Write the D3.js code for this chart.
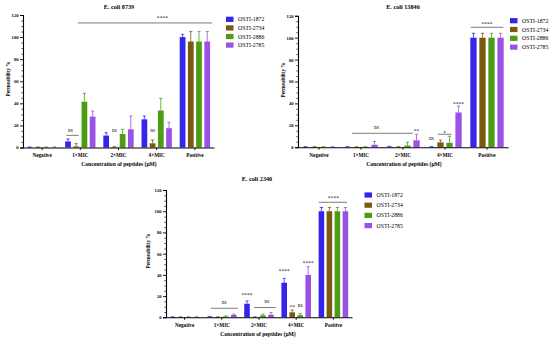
<!DOCTYPE html>
<html><head><meta charset="utf-8">
<script src="https://cdn.jsdelivr.net/npm/d3@7"></script>
<style>body{margin:0;background:#fff}svg{display:block}text{font-family:"Liberation Serif","DejaVu Serif",serif}</style>
</head><body><svg id="c" width="550" height="341"></svg>
<script>
// ---------- data ----------
const categories = ["Negative", "1×MIC", "2×MIC", "4×MIC", "Positive"];
const seriesNames = ["OSTI-1872", "OSTI-2734", "OSTI-2886", "OSTI-2785"];
const yTickValues = [0, 20, 40, 60, 80, 100, 120];

// means per series (rows) x category (cols)
const mean8739 = [
  [0.3, 5.5, 10.8, 25.5, 100],
  [0.3, 1.0, 0.5, 3.8, 96],
  [0.3, 41.5, 12.2, 33.5, 96],
  [0.3, 28.0, 16.5, 17.5, 96]
];
const sd8739 = [
  [0.2, 2.2, 2.6, 3.0, 2.5],
  [0.2, 2.5, 0.3, 3.0, 9],
  [0.2, 7.5, 4.3, 11.0, 9],
  [0.2, 5.0, 12.0, 5.3, 9]
];
const mean13846 = [
  [0.3, 0.3, 0.5, 0.3, 100],
  [0.3, 0.2, 0.3, 4.4, 100],
  [0.3, 0.3, 1.5, 4.0, 100],
  [0.3, 2.2, 6.3, 31.7, 100]
];
const sd13846 = [
  [0.2, 0.2, 0.3, 0.2, 4],
  [0.2, 0.2, 0.2, 2.0, 4],
  [0.2, 0.2, 3.0, 6.0, 4],
  [0.2, 3.0, 5.5, 5.8, 4]
];
const mean2340 = [
  [0.3, 0.6, 12.8, 32.6, 100],
  [0.3, 0.3, 0.3, 4.7, 100],
  [0.3, 0.8, 1.8, 2.0, 100],
  [0.3, 2.2, 2.5, 40.0, 100]
];
const sd2340 = [
  [0.2, 0.3, 2.6, 4.1, 3.5],
  [0.2, 0.2, 0.2, 2.2, 3.5],
  [0.2, 0.4, 1.2, 1.5, 3.5],
  [0.2, 0.8, 2.0, 7.7, 3.5]
];

// significance labels: category index, series slot, value (baseline), text
const labels8739 = [
  {c: 1, s: 0.3, v: 13.8, t: "ns"},
  {c: 2, s: 1, v: 13.8, t: "ns"},
  {c: 3, s: 1, v: 13.8, t: "ns"},
  {c: 3, s: 2.2, v: 115.5, t: "****"}
];
const brackets8739 = [
  {c0: 1, s0: -0.2, c1: 1, s1: 1.3, v: 11},
  {c0: 1, s0: 1.2, c1: 4, s1: 3.6, v: 112.8}
];
const labels13846 = [
  {c: 1, s: 3.2, v: 16.3, t: "ns"},
  {c: 2, s: 3, v: 12.9, t: "**"},
  {c: 3, s: 0, v: 6.3, t: "ns"},
  {c: 3, s: 1.45, v: 11.1, t: "*"},
  {c: 3, s: 3, v: 37.6, t: "****"},
  {c: 4, s: 1.5, v: 110.7, t: "****"}
];
const brackets13846 = [
  {c0: 1, s0: 0.5, c1: 2, s1: 2.6, v: 12.7},
  {c0: 3, s0: 0.7, c1: 3, s1: 2.2, v: 11.8},
  {c0: 4, s0: -0.3, c1: 4, s1: 3.3, v: 109.5}
];
const labels2340 = [
  {c: 1, s: 1.8, v: 12.5, t: "ns"},
  {c: 2, s: 0, v: 19.1, t: "****"},
  {c: 2, s: 2.5, v: 13.2, t: "ns"},
  {c: 3, s: 0, v: 41.8, t: "****"},
  {c: 3, s: 1, v: 8.1, t: "**"},
  {c: 3, s: 2, v: 9.7, t: "ns"},
  {c: 3, s: 3, v: 49.6, t: "****"},
  {c: 4, s: 1.5, v: 110.6, t: "****"}
];
const brackets2340 = [
  {c0: 1, s0: 0.15, c1: 1, s1: 3.5, v: 8.5},
  {c0: 2, s0: 0.9, c1: 2, s1: 3.6, v: 9.2},
  {c0: 4, s0: -0.35, c1: 4, s1: 3.2, v: 108.4}
];

// ---------- styles / layout ----------
const colors = ["#3524ec", "#7b5a10", "#4c9c14", "#9a52e6"];
const svg = d3.select("#c");

const panels = [
  {title: "E. coli 8739", mean: mean8739, sd: sd8739, labels: labels8739, brackets: brackets8739,
   x0: 23, x1: 214, yTop: 15, y0: 147.5, titleX: 119, titleY: 8.5, catY: 157, axTitleX: 119, axTitleY: 165.5,
   yTitleX: 9.5, yTitleY: 79, legX: 226, legY: 19.3, legDy: 8.6},
  {title: "E. coli 13846", mean: mean13846, sd: sd13846, labels: labels13846, brackets: brackets13846,
   x0: 298, x1: 508, yTop: 15.8, y0: 147.2, titleX: 403, titleY: 8.5, catY: 157, axTitleX: 404, axTitleY: 165.5,
   yTitleX: 284.5, yTitleY: 80, legX: 510, legY: 20.7, legDy: 8.8},
  {title: "E. coli 2340", mean: mean2340, sd: sd2340, labels: labels2340, brackets: brackets2340,
   x0: 166, x1: 352, yTop: 190, y0: 317.3, titleX: 257, titleY: 180.5, catY: 327, axTitleX: 258, axTitleY: 336,
   yTitleX: 150, yTitleY: 251, legX: 364.5, legY: 195, legDy: 10.2}
];

panels.forEach(p => {
  const g = svg.append("g");
  const x = d3.scaleBand().domain(categories).range([p.x0, p.x1]);
  const step = x.step();
  const stride = step * 0.215, bw = step * 0.15;
  const y = d3.scaleLinear().domain([0, 120]).range([p.y0, p.yTop]);
  const sx = (c, s) => x(categories[c]) + step / 2 + (s - 1.5) * stride;

  // bars
  seriesNames.forEach((name, si) => {
    categories.forEach((cat, ci) => {
      const m = p.mean[si][ci], e = p.sd[si][ci];
      const cx = sx(ci, si);
      g.append("rect").attr("x", cx - bw / 2).attr("y", y(m))
        .attr("width", bw).attr("height", y(0) - y(m)).attr("fill", colors[si]);
      g.append("line").attr("x1", cx).attr("x2", cx).attr("y1", y(m)).attr("y2", y(m + e))
        .attr("stroke", colors[si]).attr("stroke-width", 0.8);
      g.append("line").attr("x1", cx - 1.6).attr("x2", cx + 1.6).attr("y1", y(m + e)).attr("y2", y(m + e))
        .attr("stroke", colors[si]).attr("stroke-width", 0.8);
    });
  });

  // y axis
  const ya = g.append("g").attr("transform", `translate(${p.x0},0)`)
    .call(d3.axisLeft(y).tickValues(yTickValues).tickSize(3).tickPadding(1.5));
  ya.select(".domain").attr("stroke", "#000").attr("stroke-width", 1.1);
  ya.selectAll(".tick line").attr("stroke", "#000").attr("stroke-width", 0.9);
  ya.selectAll(".tick text").attr("font-size", 4.6).attr("font-weight", "bold")
    .attr("font-family", "Liberation Serif").attr("fill", "#000");
  const minor = d3.range(0, 121, 5).filter(v => v % 20 !== 0);
  g.append("g").attr("transform", `translate(${p.x0},0)`)
    .call(d3.axisLeft(y).tickValues(minor).tickSize(1.6).tickFormat(""))
    .call(a => { a.select(".domain").remove(); a.selectAll("line").attr("stroke", "#000").attr("stroke-width", 0.7); });

  // x axis
  const xa = g.append("g").attr("transform", `translate(0,${p.y0})`)
    .call(d3.axisBottom(x).tickSize(2.5).tickSizeOuter(0).tickPadding(2));
  xa.select(".domain").attr("stroke", "#000").attr("stroke-width", 1.1);
  xa.selectAll(".tick line").attr("stroke", "#000").attr("stroke-width", 0.9);
  xa.selectAll(".tick text").remove();
  categories.forEach(c => {
    g.append("text").attr("x", x(c) + step / 2).attr("y", p.catY).attr("text-anchor", "middle")
      .attr("font-size", 5.2).attr("font-weight", "bold").text(c);
  });

  // titles
  g.append("text").attr("x", p.titleX).attr("y", p.titleY).attr("text-anchor", "middle")
    .attr("font-size", 6.2).attr("font-weight", "bold").text(p.title);
  g.append("text").attr("x", p.axTitleX).attr("y", p.axTitleY).attr("text-anchor", "middle")
    .attr("font-size", 5.6).attr("font-weight", "bold").text("Concentration of peptides (μM)");
  g.append("text").attr("transform", `translate(${p.yTitleX},${p.yTitleY}) rotate(-90)`)
    .attr("text-anchor", "middle").attr("font-size", 5.2).attr("font-weight", "bold").text("Permeability %");

  // brackets and labels
  p.brackets.forEach(b => {
    g.append("line").attr("x1", sx(b.c0, b.s0)).attr("x2", sx(b.c1, b.s1))
      .attr("y1", y(b.v)).attr("y2", y(b.v)).attr("stroke", "#444").attr("stroke-width", 0.7);
  });
  p.labels.forEach(l => {
    g.append("text").attr("x", sx(l.c, l.s)).attr("y", y(l.v)).attr("text-anchor", "middle")
      .attr("font-size", l.t === "ns" ? 5.4 : 5.6).attr("fill", "#111").text(l.t);
  });

  // legend
  seriesNames.forEach((n, i) => {
    const cy = p.legY + i * p.legDy;
    g.append("rect").attr("x", p.legX).attr("y", cy - 2.6).attr("width", 7.5).attr("height", 5.2).attr("fill", colors[i]);
    g.append("text").attr("x", p.legX + 12).attr("y", cy + 2).attr("font-size", 5.8).text(n);
  });
});
</script></body></html>
